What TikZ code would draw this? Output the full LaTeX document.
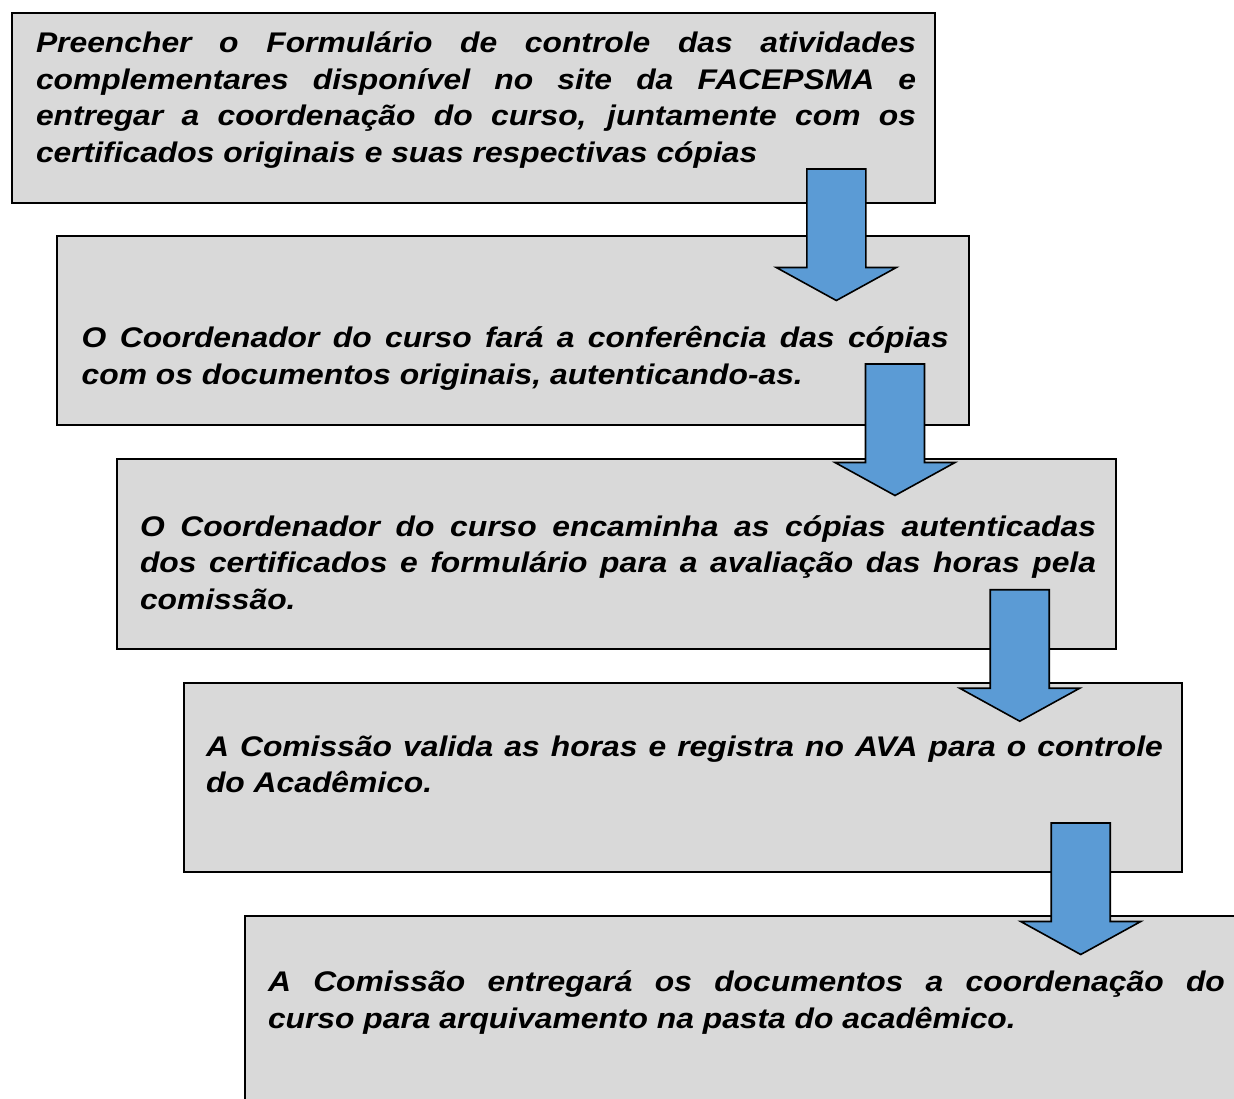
\documentclass[tikz,border=0pt]{standalone}
\usepackage{fontspec}
\setmainfont{Liberation Sans}
\usepackage{graphicx}
\usetikzlibrary{fit}
\definecolor{boxgray}{HTML}{D9D9D9}
\definecolor{arrowblue}{HTML}{5B9BD5}
\newcommand{\steptext}[2]{\scalebox{1.12}[1]{\parbox[t]{#1}{\fontsize{14.2pt}{18.35pt}\selectfont\bfseries\itshape\hbadness=10000\relax #2}}}
\newcommand{\blockdown}[2]{%
  \draw[blockarrow] (#1-29.5,#2) -- (#1+29.5,#2) -- (#1+29.5,#2+98.5) -- (#1+60,#2+98.5)
    -- (#1,#2+131.5) -- (#1-60,#2+98.5) -- (#1-29.5,#2+98.5) -- cycle;}
\tikzset{
  stepbox/.style={draw=black, line width=1pt, fill=boxgray, rectangle, inner sep=0pt, outer sep=0pt},
  txt/.style={inner sep=0pt, outer sep=0pt, anchor=base west},
  blockarrow/.style={draw=black, line width=0.8pt, fill=arrowblue, line join=miter}
}
\begin{document}
\begin{tikzpicture}[x=0.5pt, y=-0.5pt]
\useasboundingbox (0,0) rectangle (1234,1098);
\clip (0,0) rectangle (1234,1098);
\fill[white] (0,0) rectangle (1234,1098);
% boxes
\node[stepbox, fit={(12,13)(935,203)}] (b1) {};
\node[stepbox, fit={(57,236)(969,425)}] (b2) {};
\node[stepbox, fit={(117,459)(1116,649)}] (b3) {};
\node[stepbox, fit={(184,683)(1182,872)}] (b4) {};
\node[stepbox, fit={(245,916)(1250,1110)}] (b5) {};
% texts
\node[txt] (t1) at (36,52.3) {\steptext{392.9pt}{Preencher o Formulário de controle das atividades\linebreak complementares disponível no site da FACEPSMA e\linebreak entregar a coordenação do curso, juntamente com os\linebreak certificados originais e suas respectivas cópias}};
\node[txt] (t2) at (81.7,347.5) {\steptext{387.1pt}{O Coordenador do curso fará a conferência das cópias\linebreak com os documentos originais, autenticando-as.}};
\node[txt] (t3) at (140,536) {\steptext{426.8pt}{O Coordenador do curso encaminha as cópias autenticadas\linebreak dos certificados e formulário para a avaliação das horas pela\linebreak comissão.}};
\node[txt] (t4) at (206,756) {\steptext{427.2pt}{A Comissão valida as horas e registra no AVA para o controle\linebreak do Acadêmico.}};
\node[txt] (t5) at (268,991.7) {\steptext{427.2pt}{A Comissão entregará os documentos a coordenação do\linebreak curso para arquivamento na pasta do acadêmico.}};
% block arrows
\blockdown{836.3}{169}
\blockdown{895}{364}
\blockdown{1019.7}{589.7}
\blockdown{1080.7}{823}
\end{tikzpicture}
\end{document}
